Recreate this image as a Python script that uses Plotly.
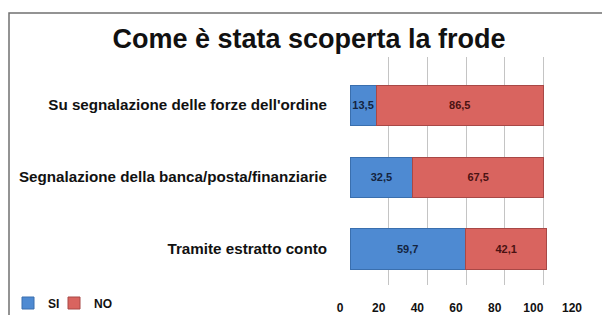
import plotly.graph_objects as go

categories = ["Tramite estratto conto",
              "Segnalazione della banca/posta/finanziarie",
              "Su segnalazione delle forze dell'ordine"]
si_values = [59.7, 32.5, 13.5]
no_values = [42.1, 67.5, 86.5]
tick_values = [0, 20, 40, 60, 80, 100, 120]

W, H = 602, 315
L, R, T, B = 350, 20, 57, 30
pw, ph = W - L - R, H - T - B

def px(x):
    return (x - L) / pw

def py(y):
    return (H - B - y) / ph

fig = go.Figure()
fig.add_trace(go.Bar(
    y=categories, x=si_values, name="SI", orientation="h", legend="legend",
    marker=dict(color="#4e8ad2", line=dict(color="#3a6fae", width=1)),
    texttemplate="<b>%{x:.1f}</b>", textposition="inside", insidetextanchor="middle",
    textangle=0, constraintext="none",
    textfont=dict(color="#14243f", size=11, family="Liberation Sans, Arial"),
))
fig.add_trace(go.Bar(
    y=categories, x=no_values, name="NO", orientation="h", legend="legend2",
    marker=dict(color="#d9645f", line=dict(color="#a84846", width=1)),
    texttemplate="<b>%{x:.1f}</b>", textposition="inside", insidetextanchor="middle",
    textangle=0, constraintext="none",
    textfont=dict(color="#4a1212", size=11, family="Liberation Sans, Arial"),
))

legend_common = dict(orientation="h", y=py(303), xanchor="left", yanchor="middle",
                     font=dict(size=12, weight="bold"), itemwidth=30,
                     bgcolor="rgba(0,0,0,0)")

fig.update_layout(
    width=W, height=H,
    margin=dict(l=L, r=R, t=T, b=B, autoexpand=False),
    barmode="stack", bargap=0.444,
    separators=",.",
    paper_bgcolor="white", plot_bgcolor="white",
    font=dict(family="Liberation Sans, Arial", color="#111111"),
    title=dict(text="<b>Come è stata scoperta la frode</b>", x=309 / W, xref="container",
               xanchor="center", y=1 - 39 / H, yref="container", yanchor="middle",
               font=dict(size=27, color="#111111")),
    xaxis=dict(range=[0, 120], tickvals=tick_values, showgrid=True, automargin=False,
               gridcolor="#c4c4c4", gridwidth=1, zeroline=False,
               showline=False, ticks="", ticklabelstandoff=14, ticklabelshift=-10,
               tickfont=dict(size=12, color="#111111", weight="bold")),
    yaxis=dict(showgrid=False, ticks="", ticklabelstandoff=22, automargin=False,
               range=[-0.5, 2.667],
               tickfont=dict(size=15.2, color="#111111", weight="bold")),
    legend=dict(x=px(8), **legend_common),
    legend2=dict(x=px(54), **legend_common),
    showlegend=True,
)

fig.add_shape(type="rect", xref="paper", yref="paper",
              x0=px(9), x1=px(610), y0=py(330), y1=py(13),
              line=dict(color="#707070", width=1.5), fillcolor="rgba(0,0,0,0)",
              layer="below")

fig.write_html("out.html", config={"displayModeBar": False},
               post_script="document.body.style.margin='0';document.body.style.padding='0';")
